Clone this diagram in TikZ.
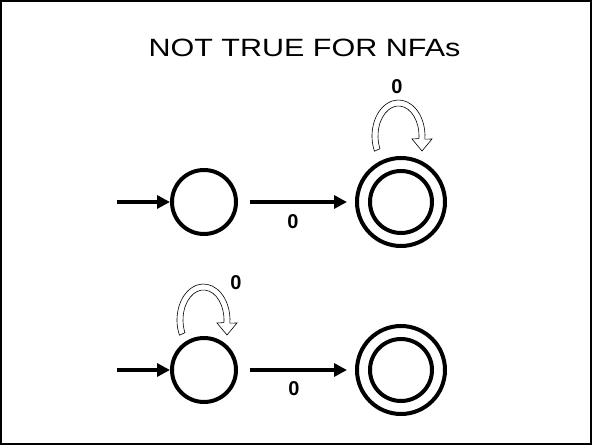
\documentclass[tikz,border=0pt]{standalone}
\usepackage{fontspec}
\setmainfont{Liberation Sans}
\usetikzlibrary{arrows.meta}
\begin{document}
\begin{tikzpicture}[x=1pt,y=1pt,
  state/.style={circle,draw=black,line width=4pt,minimum size=64pt,inner sep=0pt},
  accstate/.style={circle,draw=black,line width=4pt,minimum size=88pt,inner sep=0pt},
  innerring/.style={circle,draw=black,line width=4pt,minimum size=62pt,inner sep=0pt},
  edge/.style={line width=4pt,-{Triangle[length=13pt,width=13pt]}},
  lbl/.style={font=\bfseries\fontsize{20}{20}\selectfont},
  hollow/.style={draw=black,fill=white,line width=0.6pt},
  selfloop/.pic={
    \path[hollow] (205:26.5 and 36) arc[start angle=205,end angle=-5,x radius=26.5,y radius=36]
      -- (33.5,-3) -- (23.5,-15) -- (13.5,-3)
      -- (-5:20.5 and 30) arc[start angle=-5,end angle=205,x radius=20.5,y radius=30] -- cycle;
  }
]
\useasboundingbox (0,0) rectangle (592,445);
\draw[line width=1.2pt] (1,1) rectangle (591,444);

\node (title) at (304.5,397) {\scalebox{1.22}[1]{\fontsize{25}{25}\selectfont NOT TRUE FOR NFAs}};

% upper automaton
\node[state] (a1) at (204,243) {};
\node[accstate] (b1) at (401,243) {};
\node[innerring] (b1i) at (b1) {};
\coordinate (s1) at (117,243);
\draw[edge] (s1) -- (a1.west);
\draw[edge,shorten <=12pt,shorten >=8pt] (a1.east) -- (b1.west);
\node[lbl] (l1) at (293,223) {0};
\path (b1) ++(-2.5,66) pic {selfloop};
\node[lbl] (l2) at (397,358) {0};

% lower automaton
\node[state] (a2) at (204,75) {};
\node[accstate] (b2) at (401,75) {};
\node[innerring] (b2i) at (b2) {};
\coordinate (s2) at (117,75);
\draw[edge] (s2) -- (a2.west);
\draw[edge,shorten <=12pt,shorten >=8pt] (a2.east) -- (b2.west);
\node[lbl] (l3) at (294,56) {0};
\path (a2) ++(-0.5,50) pic {selfloop};
\node[lbl] (l4) at (236,162) {0};
\end{tikzpicture}
\end{document}
